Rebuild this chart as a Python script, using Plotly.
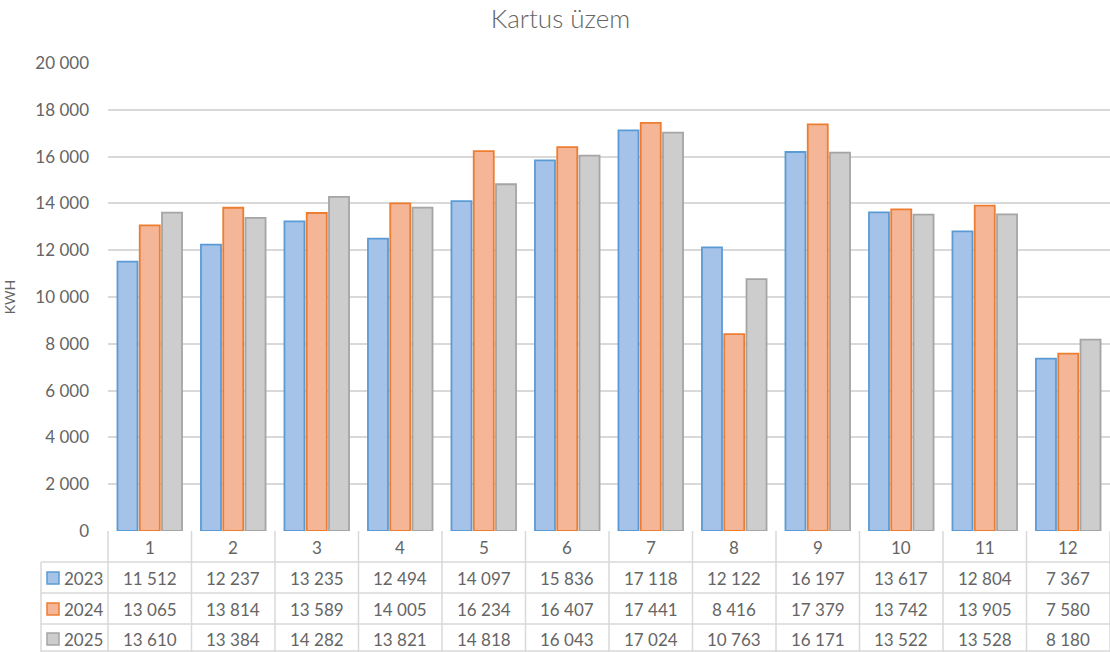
import plotly.graph_objects as go

months = [1, 2, 3, 4, 5, 6, 7, 8, 9, 10, 11, 12]
series_names = ["2023", "2024", "2025"]
v2023 = [11512, 12237, 13235, 12494, 14097, 15836, 17118, 12122, 16197, 13617, 12804, 7367]
v2024 = [13065, 13814, 13589, 14005, 16234, 16407, 17441, 8416, 17379, 13742, 13905, 7580]
v2025 = [13610, 13384, 14282, 13821, 14818, 16043, 17024, 10763, 16171, 13522, 13528, 8180]
values = [v2023, v2024, v2025]

fills = ["#a5c2e8", "#f5b698", "#cdcdcd"]
borders = ["#5b9bd5", "#ed7d31", "#a5a5a5"]
txt = "#656565"
grid = "#d9d9d9"
FONT = "Lato"

W, H = 1110, 652
ml, mr, mt, mb = 108, 0, 63, 121
plot_h = H - mt - mb

def py(pix):
    return (H - mb - pix) / plot_h

def px(pix):
    return (pix - ml) / (W - ml - mr)

def fmt(v):
    return f"{v:,}".replace(",", " ")

fig = go.Figure()
for name, vals, f, b in zip(series_names, values, fills, borders):
    fig.add_trace(go.Bar(x=months, y=vals, name=name,
                         marker=dict(color=f, line=dict(color=b, width=1.8))))

shapes = []
annots = []
line = dict(color=grid, width=1.5)
for yy in [562, 593, 624, 651]:
    shapes.append(dict(type="line", xref="paper", yref="paper", x0=px(41), x1=1,
                       y0=py(yy), y1=py(yy), line=line))
n = len(months)
for k in range(n + 1):
    shapes.append(dict(type="line", xref="paper", yref="paper", x0=k / n, x1=k / n,
                       y0=0, y1=py(652), line=line))
shapes.append(dict(type="line", xref="paper", yref="paper", x0=px(41), x1=px(41),
                   y0=py(562), y1=py(652), line=line))

tfont = dict(size=17, color=txt, family=FONT)
for m in months:
    annots.append(dict(x=m, y=py(547), xref="x", yref="paper", text=str(m),
                       xanchor="center", yanchor="middle", showarrow=False, font=tfont))
row_y = [578, 609, 639]
for i, (name, vals) in enumerate(zip(series_names, values)):
    yc = row_y[i]
    shapes.append(dict(type="rect", xref="paper", yref="paper",
                       x0=px(47), x1=px(59), y0=py(yc - 6), y1=py(yc + 6),
                       fillcolor=fills[i], line=dict(color=borders[i], width=1.5)))
    annots.append(dict(x=px(62), y=py(yc), xref="paper", yref="paper", text=name,
                       xanchor="left", yanchor="middle", showarrow=False, font=tfont))
    for m, v in zip(months, vals):
        annots.append(dict(x=m, y=py(yc), xref="x", yref="paper", text=fmt(v),
                           xanchor="center", yanchor="middle", showarrow=False, font=tfont))

fig.update_layout(
    width=W, height=H,
    margin=dict(l=ml, r=mr, t=mt, b=mb),
    paper_bgcolor="white", plot_bgcolor="white",
    separators=", ",
    barmode="group", bargap=0.2, bargroupgap=0.1,
    showlegend=False,
    title=dict(text="Kartus üzem", x=0.505, xanchor="center", y=1 - 19 / H, yanchor="middle",
               font=dict(size=26, color=txt, family=FONT, weight=300)),
    xaxis=dict(range=[0.5, 12.5], showticklabels=False, showgrid=False, zeroline=False,
               showline=False, ticks=""),
    yaxis=dict(range=[0, 20000], dtick=2000, showgrid=True, gridcolor=grid, gridwidth=1.5,
               zeroline=False, showline=False, tickformat=",d",
               tickfont=dict(size=17, color=txt, family=FONT), ticklabelstandoff=18,
               title=dict(text="KWH", font=dict(size=14, color=txt, family=FONT), standoff=16)),
    shapes=shapes, annotations=annots,
    font=dict(family=FONT, color=txt),
)
fig.write_html("out.html", config={"displayModeBar": False},
               post_script="document.body.style.margin='0';")
